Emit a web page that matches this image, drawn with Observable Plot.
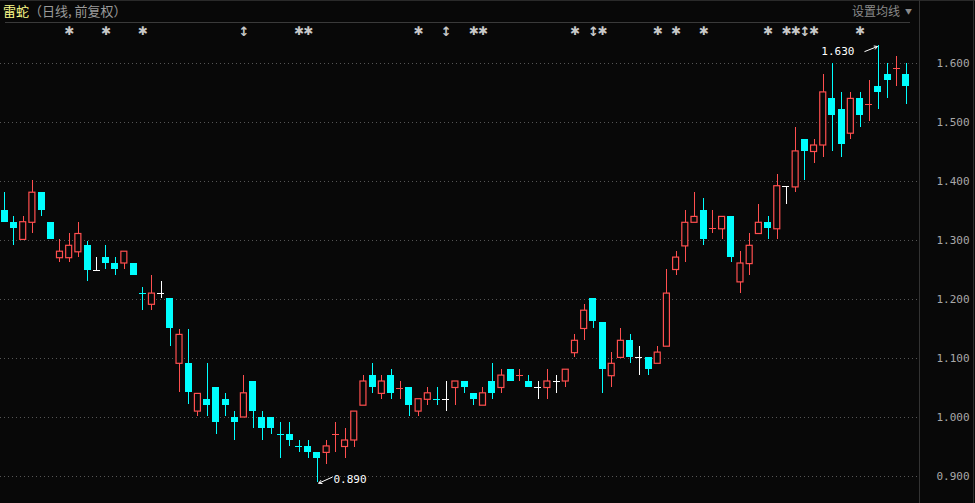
<!DOCTYPE html>
<html>
<head>
<meta charset="utf-8">
<script src="https://cdn.jsdelivr.net/npm/d3@7"></script>
<script src="https://cdn.jsdelivr.net/npm/@observablehq/plot@0.6"></script>
<style>
  html, body { margin: 0; padding: 0; background: #080808; }
  #wrap { position: relative; width: 975px; height: 503px; background: #080808; overflow: hidden;
          font-family: "Noto Sans CJK SC", "Noto Sans", sans-serif; }
  #title { position: absolute; left: 3px; top: 3px; font-size: 13px; line-height: 15px; white-space: nowrap; }
  #title .name { color: #ffff8c; }
  #title .sub { color: #9a9a9a; }
  #ma { position: absolute; left: 852px; top: 3px; font-size: 12px; line-height: 15px; color: #8a8a8a; white-space: nowrap; }
  #ma .tri { font-size: 7px; margin-left: 5px; vertical-align: 2px; }
  .line { position: absolute; }
  #chart { position: absolute; left: 0; top: 22px; }
</style>
</head>
<body>
<div id="wrap">
  <div class="line" style="left:0;top:0;width:975px;height:1px;background:#2a2a2a"></div>
  <div id="title"><span class="name">雷蛇</span><span class="sub">（日线, 前复权）</span></div>
  <div id="ma">设置均线<span class="tri">▼</span></div>
  <div class="line" style="left:5px;top:22px;width:905px;height:1px;background:#3a3a3a"></div>
  <div id="chart"></div>
  <div class="line" style="left:919px;top:0;width:1px;height:503px;background:#333333"></div>
  <div class="line" style="left:973px;top:0;width:1px;height:503px;background:#2e2e2e"></div>
</div>
<script>
// ---- data (daily candles) ----
const opens = [1.351,1.331,1.301,1.330,1.381,1.331,1.270,1.270,1.280,1.291,
  1.250,1.271,1.261,1.261,1.261,1.210,1.191,1.210,1.201,1.091,
  1.091,1.010,1.031,1.051,1.031,1.000,1.000,1.061,1.000,1.000,
  0.971,0.971,0.951,0.951,0.941,0.940,0.971,0.950,0.961,1.020,
  1.071,1.040,1.071,1.050,1.051,1.010,1.030,1.031,1.031,1.050,
  1.061,1.041,1.020,1.061,1.050,1.081,1.071,1.061,1.051,1.050,
  1.061,1.061,1.109,1.150,1.202,1.161,1.070,1.101,1.131,1.101,
  1.101,1.091,1.120,1.250,1.290,1.330,1.351,1.320,1.319,1.341,
  1.229,1.260,1.311,1.330,1.319,1.392,1.390,1.471,1.450,1.461,
  1.541,1.522,1.481,1.541,1.531,1.561,1.581,1.591,1.581];
const closes = [1.331,1.321,1.331,1.381,1.351,1.302,1.281,1.291,1.311,1.250,
  1.250,1.261,1.251,1.281,1.241,1.210,1.210,1.210,1.151,1.140,
  1.042,1.040,1.021,0.992,1.021,0.992,1.041,1.011,0.982,0.982,
  0.971,0.961,0.951,0.941,0.931,0.951,0.971,0.961,1.010,1.061,
  1.051,1.061,1.041,1.050,1.021,1.031,1.041,1.031,1.031,1.061,
  1.051,1.031,1.041,1.041,1.071,1.061,1.071,1.051,1.051,1.061,
  1.061,1.081,1.130,1.181,1.162,1.082,1.091,1.130,1.101,1.101,
  1.082,1.110,1.210,1.271,1.330,1.340,1.302,1.320,1.340,1.272,
  1.261,1.291,1.330,1.321,1.392,1.392,1.451,1.451,1.461,1.551,
  1.512,1.462,1.540,1.512,1.531,1.551,1.571,1.591,1.561];
const highs = [1.381,1.341,1.341,1.402,1.381,1.331,1.302,1.312,1.331,1.299,
  1.271,1.292,1.271,1.281,1.261,1.220,1.241,1.230,1.201,1.150,
  1.150,1.040,1.092,1.051,1.041,1.010,1.071,1.061,1.010,1.000,
  0.992,0.992,0.961,0.961,0.941,0.961,0.992,0.981,1.010,1.071,
  1.092,1.071,1.081,1.061,1.051,1.031,1.051,1.051,1.061,1.061,
  1.061,1.041,1.051,1.092,1.081,1.081,1.081,1.071,1.061,1.081,
  1.071,1.081,1.141,1.192,1.202,1.161,1.110,1.151,1.141,1.120,
  1.101,1.120,1.251,1.281,1.351,1.381,1.371,1.351,1.340,1.341,
  1.282,1.312,1.361,1.341,1.412,1.392,1.492,1.471,1.471,1.581,
  1.600,1.551,1.551,1.551,1.571,1.630,1.600,1.612,1.600];
const lows = [1.331,1.292,1.301,1.312,1.341,1.302,1.262,1.262,1.272,1.231,
  1.250,1.251,1.241,1.251,1.241,1.181,1.181,1.201,1.121,1.042,
  1.022,1.001,1.001,0.972,1.001,0.961,1.000,0.982,0.961,0.972,
  0.931,0.951,0.941,0.931,0.890,0.921,0.941,0.931,0.950,1.020,
  1.041,1.031,1.031,1.031,1.001,1.001,1.020,1.020,1.010,1.020,
  1.041,1.020,1.020,1.031,1.041,1.061,1.061,1.051,1.031,1.031,
  1.041,1.051,1.102,1.131,1.151,1.041,1.051,1.101,1.092,1.072,
  1.072,1.091,1.120,1.241,1.262,1.330,1.292,1.312,1.302,1.262,
  1.211,1.241,1.311,1.302,1.302,1.361,1.381,1.402,1.431,1.441,
  1.451,1.441,1.472,1.492,1.502,1.522,1.541,1.561,1.531];
// markers in the top strip (candle indices)
const starIdx = [7,11,15,32,33,45,51,52,62,65,71,73,76,83,85,86,88,93];
const arrowIdx = [26,48,64,87];
// y-axis tick values
const yTicks = [0.9,1.0,1.1,1.2,1.3,1.4,1.5,1.6];

// ---- build ----
const data = opens.map((o, i) => ({i, open: o, close: closes[i], high: highs[i], low: lows[i]}));
data.forEach((d, i) => {
  if (d.close > d.open) d.dir = 1;
  else if (d.close < d.open) d.dir = -1;
  else d.dir = i > 0 ? Math.sign(Math.round((d.close - data[i - 1].close) * 1000)) : 0;
});

const UP = "#ff4f4f", DOWN = "#00ffff", FLAT = "#ffffff", BG = "#080808";
const W = 975, H = 481, ML = 0, MR = 56, MT = 41, MB = 27;
const xDomain = [-0.4676, 99.467];
const yDomain = [0.9, 1.6];
const kx = (W - ML - MR) / (xDomain[1] - xDomain[0]);
const ky = (H - MT - MB) / (yDomain[1] - yDomain[0]);
const HW = 3.5 / kx;      // half body width (filled)
const HW2 = 3.0 / kx;     // half body width (hollow)
const crisp = {shapeRendering: "crispEdges"};

const marks = [];
marks.push(Plot.ruleY(yTicks, {y: d => d, stroke: "#555555", strokeDasharray: "1,3", ...crisp}));

for (const [dir, col] of [[1, UP], [-1, DOWN], [0, FLAT]]) {
  const g = data.filter(d => d.dir === dir);
  marks.push(Plot.ruleX(g, {x: "i", y1: "high", y2: d => Math.max(d.open, d.close), stroke: col, ...crisp}));
  marks.push(Plot.ruleX(g, {x: "i", y1: d => Math.min(d.open, d.close), y2: "low", stroke: col, ...crisp}));
  marks.push(Plot.ruleY(g.filter(d => d.open === d.close),
    {y: "close", x1: d => d.i - HW, x2: d => d.i + HW, stroke: col, ...crisp}));
}
marks.push(Plot.rect(data.filter(d => d.close < d.open),
  {x1: d => d.i - HW, x2: d => d.i + HW, y1: "open", y2: "close", fill: DOWN, ...crisp}));
marks.push(Plot.rect(data.filter(d => d.close > d.open),
  {x1: d => d.i - HW2, x2: d => d.i + HW2, y1: "open", y2: "close", fill: BG, stroke: UP, strokeWidth: 1.2}));

// y labels on the right
marks.push(Plot.text(yTicks, {y: d => d, frameAnchor: "right", dx: 17, textAnchor: "start",
  text: d => d3.format(".3f")(d), fill: "#a8a8a8", fontSize: 11, fontFamily: "DejaVu Sans Mono"}));

// top strip markers (text glyphs)
marks.push(Plot.text(starIdx, {x: d => d, frameAnchor: "top", lineAnchor: "middle", dy: -32,
  text: () => "✱", fill: "#c8c8c8", fontSize: 12, fontFamily: "DejaVu Sans"}));
marks.push(Plot.text(arrowIdx, {x: d => d, frameAnchor: "top", lineAnchor: "middle", dy: -32,
  text: () => "↕", fill: "#c8c8c8", fontSize: 13, fontWeight: "bold", fontFamily: "DejaVu Sans"}));

// extreme annotations
const hi = data.reduce((a, b) => b.high > a.high ? b : a);
const lo = data.reduce((a, b) => b.low < a.low ? b : a);
marks.push(Plot.text([hi], {x: "i", y: "high", text: d => d3.format(".3f")(d.high), textAnchor: "end",
  dx: -24, dy: 5.5, fill: "#ffffff", fontSize: 11, fontFamily: "DejaVu Sans Mono"}));
marks.push(Plot.arrow([hi], {x1: d => d.i - 13.6 / kx, y1: d => d.high - 5.7 / ky,
  x2: d => d.i - 1 / kx, y2: d => d.high - 0.7 / ky, stroke: "#ffffff", headLength: 5, strokeWidth: 1}));
marks.push(Plot.text([lo], {x: "i", y: "low", text: d => d3.format(".3f")(d.low), textAnchor: "start",
  dx: 16, dy: -3, fill: "#ffffff", fontSize: 11, fontFamily: "DejaVu Sans Mono"}));
marks.push(Plot.arrow([lo], {x1: d => d.i + 14.7 / kx, y1: d => d.low + 5.2 / ky,
  x2: d => d.i + 1.3 / kx, y2: d => d.low - 0.8 / ky, stroke: "#ffffff", headLength: 5, strokeWidth: 1}));

const chart = Plot.plot({
  width: W, height: H,
  marginLeft: ML, marginRight: MR, marginTop: MT, marginBottom: MB,
  x: {type: "linear", domain: xDomain, axis: null},
  y: {type: "linear", domain: yDomain, axis: null},
  style: {background: "transparent", color: "#a0a0a0", overflow: "visible"},
  marks
});
document.getElementById("chart").appendChild(chart);
</script>
</body>
</html>
